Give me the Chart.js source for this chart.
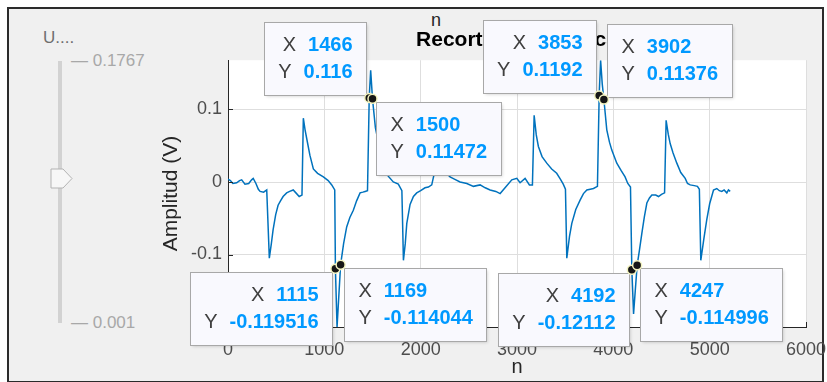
<!DOCTYPE html>
<html>
<head>
<meta charset="utf-8">
<script src="https://cdn.jsdelivr.net/npm/chart.js@4.4.1/dist/chart.umd.min.js"></script>
<style>
  html, body { margin:0; padding:0; background:#ffffff; width:827px; height:382px; overflow:hidden;
    font-family:"Liberation Sans", Arial, Helvetica, sans-serif; }
  #frame { position:absolute; left:7px; top:7px; width:817px; height:376px; box-sizing:border-box;
    border:2px solid #2b2b2b; background:#f0f0f0; }
  #chart { position:absolute; left:0; top:0; }
  .ui { position:absolute; white-space:nowrap; }
  #sliderTitle { left:43px; top:28px; font-size:17px; color:#6e6e6e; line-height:20px; }
  #track { left:58px; top:61px; width:4px; height:262px; background:#d2d2d2; }
  .slab { font-size:17px; color:#a8a8a8; line-height:20px; left:71px; }
  #thumb { left:50px; top:168px; }
  #topN { left:431px; top:9px; font-size:18px; color:#262626; line-height:22px; }
</style>
</head>
<body>
<div id="frame"></div>
<div class="ui" id="sliderTitle">U....</div>
<div class="ui" id="track"></div>
<div class="ui slab" style="top:51px;">— 0.1767</div>
<div class="ui slab" style="top:313px;">— 0.001</div>
<svg class="ui" id="thumb" width="24" height="22"><polygon points="1,1 13,1 22,10.5 13,20 1,20" fill="#f7f7f7" stroke="#b3b3b3" stroke-width="1"/></svg>
<div class="ui" id="topN">n</div>
<canvas id="chart" width="827" height="382"></canvas>
<script>
// ---- data ----
const nValues = [0,25,50,90,120,142,176,215,245,262,290,315,333,370,402,429,450,468,495,520,545,572,609,640,677,705,739,768,782,800,817,850,886,930,990,1040,1077,1108,1115,1132,1169,1200,1232,1265,1301,1335,1371,1400,1423,1448,1466,1481,1500,1530,1580,1620,1663,1716,1768,1805,1821,1840,1856,1890,1925,1959,2000,2045,2080,2115,2135,2160,2210,2260,2305,2350,2409,2479,2548,2617,2670,2721,2780,2825,2876,2946,2998,3032,3084,3129,3160,3178,3200,3222,3260,3309,3360,3412,3450,3480,3503,3517,3545,3569,3610,3655,3690,3725,3760,3794,3835,3853,3868,3885,3902,3932,3960,3984,4036,4080,4122,4150,4178,4192,4210,4247,4270,4296,4322,4348,4375,4400,4440,4469,4500,4532,4548,4570,4590,4620,4659,4700,4746,4770,4798,4840,4873,4893,4908,4940,4970,5000,5040,5074,5100,5126,5150,5178,5195,5213];
const ampValues = [0.004,0.002,-0.002,-0.001,0.002,0.003,-0.003,-0.002,0.003,0.005,-0.002,-0.010,-0.013,-0.014,-0.011,-0.105,-0.085,-0.066,-0.045,-0.032,-0.026,-0.020,-0.015,-0.013,-0.011,-0.015,-0.020,-0.018,0.088,0.072,0.060,0.037,0.018,0.012,0.007,0.002,-0.004,-0.011,-0.119516,-0.200,-0.114044,-0.085,-0.062,-0.049,-0.039,-0.026,-0.015,-0.014,-0.013,-0.012,0.116,0.154,0.11472,0.075,0.042,0.022,0.008,0.000,-0.003,-0.012,-0.108,-0.085,-0.057,-0.031,-0.020,-0.015,-0.012,-0.008,-0.007,-0.004,0.008,0.020,0.022,0.013,0.007,0.004,0.000,-0.002,-0.006,-0.004,-0.008,-0.011,-0.013,-0.016,-0.008,0.003,0.005,-0.001,0.005,-0.004,-0.004,0.092,0.065,0.049,0.035,0.026,0.018,0.012,0.004,-0.003,-0.010,-0.105,-0.075,-0.057,-0.038,-0.025,-0.016,-0.011,-0.010,-0.009,-0.006,0.1192,0.168,0.135,0.11376,0.072,0.055,0.044,0.026,0.016,0.007,-0.002,-0.007,-0.12112,-0.182,-0.114996,-0.095,-0.071,-0.048,-0.029,-0.022,-0.018,-0.018,-0.020,-0.017,-0.015,0.085,0.066,0.053,0.040,0.026,0.013,0.005,-0.002,-0.004,-0.005,-0.006,-0.010,-0.108,-0.078,-0.052,-0.030,-0.011,-0.009,-0.012,-0.013,-0.011,-0.015,-0.011,-0.013];
const xTicks = [0,1000,2000,3000,4000,5000,6000];
const yTicks = [-0.2,-0.1,0,0.1];
// data tips
const tipN     = [1466, 1500, 3853, 3902, 1115, 1169, 4192, 4247];
const tipAmp   = [0.116, 0.11472, 0.1192, 0.11376, -0.119516, -0.114044, -0.12112, -0.114996];
const tipSide  = ['ul', 'br', 'ul', 'ur', 'bl', 'br', 'bl', 'br'];

const FONT = '"Liberation Sans", Arial, Helvetica, sans-serif';

const lineData = nValues.map((n, i) => ({x: n, y: ampValues[i]}));
const tipData = tipN.map((n, i) => ({x: n, y: tipAmp[i]}));

const bgPlugin = {
  id: 'plotBg',
  beforeDraw(chart) {
    const {ctx, chartArea: a} = chart;
    ctx.save();
    ctx.fillStyle = '#ffffff';
    ctx.fillRect(a.left, a.top, a.right - a.left, a.bottom - a.top);
    ctx.restore();
  }
};

const tipsPlugin = {
  id: 'dataTips',
  afterDatasetDraw(chart, args) {
    if (args.index !== 0) return;
    const {ctx, chartArea: a} = chart;
    const xs = chart.scales.x, ys = chart.scales.y;
    ctx.save();
    // inward tick marks (MATLAB style)
    ctx.strokeStyle = '#262626';
    ctx.lineWidth = 1;
    ctx.beginPath();
    xTicks.forEach(v => { const px = Math.round(xs.getPixelForValue(v)) + 0.5; ctx.moveTo(px, a.bottom); ctx.lineTo(px, a.bottom - 5); });
    yTicks.forEach(v => { const py = Math.round(ys.getPixelForValue(v)) + 0.5; ctx.moveTo(a.left, py); ctx.lineTo(a.left + 5, py); });
    ctx.stroke();

    const labFont = '20px ' + FONT;
    const valFont = 'bold 20px ' + FONT;
    const padL = 14, padR = 14, gap = 12, H = 73, off = 3;
    tipN.forEach((n, i) => {
      const px = xs.getPixelForValue(n), py = ys.getPixelForValue(tipAmp[i]);
      const rows = [['X', String(n)], ['Y', String(tipAmp[i])]];
      const widths = rows.map(r => {
        ctx.font = labFont; const lw = ctx.measureText(r[0]).width;
        ctx.font = valFont; const vw = ctx.measureText(r[1]).width;
        return {lw, vw, w: lw + gap + vw};
      });
      const W = Math.round(padL + padR + Math.max(widths[0].w, widths[1].w));
      const side = tipSide[i];
      let left, top;
      if (side[1] === 'l') left = px - off - W; else left = px + off;
      if (side[0] === 'u') top = py - off - H; else top = py + off;
      left = Math.round(left) + 0.5; top = Math.round(top) + 0.5;
      ctx.save();
      ctx.shadowColor = 'rgba(0,0,0,0.18)';
      ctx.shadowBlur = 3; ctx.shadowOffsetX = 1; ctx.shadowOffsetY = 1;
      ctx.fillStyle = '#f9f9fe';
      ctx.fillRect(left, top, W, H);
      ctx.restore();
      ctx.strokeStyle = '#a8a8a8';
      ctx.lineWidth = 1;
      ctx.strokeRect(left, top, W, H);
      ctx.textBaseline = 'middle';
      ctx.textAlign = 'left';
      rows.forEach((r, k) => {
        const cy = top + (k === 0 ? 23 : 50);
        const rw = widths[k];
        const x0 = (side[1] === 'l') ? left + W - padR - rw.w : left + padL;
        ctx.font = labFont; ctx.fillStyle = '#404040';
        ctx.fillText(r[0], x0, cy);
        ctx.font = valFont; ctx.fillStyle = '#0099ff';
        ctx.fillText(r[1], x0 + rw.lw + gap, cy);
      });
    });
    ctx.restore();
  }
};

new Chart(document.getElementById('chart'), {
  type: 'scatter',
  data: {
    datasets: [
      { label: 'signal', data: lineData, showLine: true, borderColor: '#0072BD', borderWidth: 1.5,
        pointRadius: 0, tension: 0, order: 2 },
      { label: 'tips', data: tipData, showLine: false, pointRadius: 4.5, pointBackgroundColor: '#161616',
        pointBorderColor: '#f3f3bf', pointBorderWidth: 1.5, order: 1, clip: false }
    ]
  },
  options: {
    responsive: false,
    devicePixelRatio: 1,
    animation: false,
    events: [],
    layout: { padding: { left: 150, right: 21, top: 0, bottom: 0 } },
    plugins: {
      legend: { display: false },
      tooltip: { enabled: false },
      title: { display: true, text: 'Recortada periódica', fullSize: false, color: '#000000',
        font: { size: 21, weight: 'bold', family: FONT }, padding: { top: 28, bottom: 7 } }
    },
    scales: {
      x: {
        type: 'linear', min: 0, max: 6000,
        afterBuildTicks: s => { s.ticks = xTicks.map(v => ({value: v})); },
        afterFit: s => { s.height = 55; s.paddingLeft = 0; s.paddingRight = 0; },
        grid: { color: '#dedede', drawTicks: false },
        border: { color: '#262626', width: 1 },
        ticks: { font: { size: 18, family: FONT }, color: '#4d4d4d', padding: 12, maxRotation: 0, autoSkip: false,
          callback: v => String(v) },
        title: { display: true, text: 'n', color: '#262626', font: { size: 20, family: FONT }, padding: { top: 0, bottom: 3 } }
      },
      y: {
        type: 'linear', min: -0.2, max: 0.168,
        afterBuildTicks: s => { s.ticks = yTicks.map(v => ({value: v})); },
        afterFit: s => { s.width = 78; s.paddingTop = 0; s.paddingBottom = 0; },
        grid: { color: '#dedede', drawTicks: false },
        border: { color: '#262626', width: 1 },
        ticks: { font: { size: 18, family: FONT }, color: '#4d4d4d', padding: 6, autoSkip: false,
          callback: v => String(v) },
        title: { display: true, text: 'Amplitud (V)', color: '#262626', font: { size: 21, family: FONT }, padding: { top: 9, bottom: 0 } }
      }
    }
  },
  plugins: [bgPlugin, tipsPlugin]
});
</script>
</body>
</html>
